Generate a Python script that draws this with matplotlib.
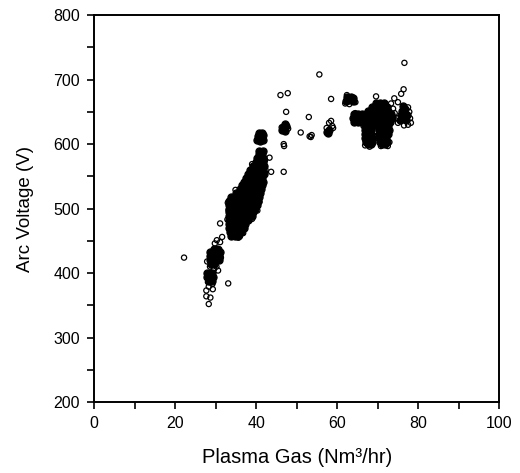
import matplotlib
matplotlib.use("Agg")
import matplotlib.pyplot as plt
from matplotlib.ticker import MultipleLocator

plt.rcParams['font.family'] = ['Liberation Sans', 'DejaVu Sans']

# Dense cluster cores (overlapping circles appear solid black)
core_x = [
    # lower cluster ~29
    29.5, 30.3,
    28.7, 29.5, 30.3, 31.0,
    28.5, 29.3, 30.1, 30.8,
    28.5, 29.3, 30.1, 30.8,
    28.8, 29.6,
    27.8, 28.5, 29.2,
    27.8, 28.6, 29.3,
    28.3, 29.0,
    # main cluster 33-42
    33.8, 34.8, 35.5,
    33.5, 34.5, 35.5, 36.3,
    33.4, 34.4, 35.4, 36.4, 37.0,
    33.3, 34.3, 35.3, 36.3, 37.3,
    33.3, 34.3, 35.3, 36.3, 37.3, 38.0,
    33.3, 34.3, 35.3, 36.3, 37.3, 38.3, 38.9,
    33.3, 34.3, 35.3, 36.3, 37.3, 38.3, 39.3,
    33.3, 34.3, 35.3, 36.3, 37.3, 38.3, 39.3, 39.8,
    33.3, 34.3, 35.3, 36.3, 37.3, 38.3, 39.3, 40.2,
    33.4, 34.4, 35.4, 36.4, 37.4, 38.4, 39.4, 40.4,
    33.9, 34.8, 35.8, 36.8, 37.8, 38.8, 39.8, 40.8,
    35.0, 36.0, 37.0, 38.0, 39.0, 40.0, 41.0,
    36.0, 37.0, 38.0, 39.0, 40.0, 41.2,
    36.5, 37.5, 38.5, 39.5, 40.5, 41.5,
    37.0, 38.0, 39.0, 40.0, 41.0, 41.8,
    37.5, 38.5, 39.5, 40.5, 41.5,
    38.0, 39.0, 40.0, 41.0, 41.9,
    38.5, 39.5, 40.5, 41.5,
    39.3, 40.3, 41.3, 42.0,
    40.0, 41.0, 41.8,
    40.3, 41.2, 41.8,
    40.6, 41.5,
    40.8, 41.6,
    # blob at ~610
    40.3, 41.0, 41.7, 40.5, 41.2, 41.8, 40.7, 41.4,
    # cluster at 47
    46.5, 47.2, 46.7, 47.4, 47.0,
    # cluster at 58
    57.5, 58.0, 57.8,
    # cluster at 63
    62.3, 63.0, 63.8, 62.5, 63.3, 64.0,
    # big cluster 64-74
    64.2, 65.2, 66.2, 67.2, 68.2, 69.2, 70.2, 71.2, 72.2, 73.0,
    63.8, 64.8, 65.8, 66.8, 67.8, 68.8, 69.8, 70.8, 71.8, 72.8, 73.5,
    64.2, 65.2, 66.2, 67.2, 68.2, 69.2, 70.2, 71.2, 72.2, 73.2,
    67.5, 68.5, 69.5, 70.5, 71.5, 72.5,
    68.5, 69.5, 70.5, 71.5, 72.3,
    69.5, 70.5, 71.5,
    66.8, 67.8, 68.6,
    66.8, 67.6, 68.4,
    66.8, 67.6, 68.4,
    66.9, 67.7, 68.5,
    67.0, 67.8, 68.6,
    67.5, 68.3,
    70.2, 71.0, 71.8, 72.6,
    70.4, 71.2, 72.0, 72.8,
    70.4, 71.2, 72.0, 72.6,
    70.4, 71.2, 72.0,
    70.6, 71.4, 72.2,
    71.0, 71.8,
    # right cluster ~76
    75.5, 76.3, 77.0, 75.7, 76.5, 77.2, 76.0, 76.8, 76.2,
]
core_y = [
    438, 438,
    432, 432, 432, 432,
    426, 426, 426, 426,
    420, 420, 420, 420,
    414, 414,
    400, 400, 400,
    394, 394, 394,
    388, 388,
    458, 458, 458,
    464, 464, 464, 464,
    470, 470, 470, 470, 470,
    476, 476, 476, 476, 476,
    482, 482, 482, 482, 482, 482,
    488, 488, 488, 488, 488, 488, 488,
    494, 494, 494, 494, 494, 494, 494,
    500, 500, 500, 500, 500, 500, 500, 500,
    506, 506, 506, 506, 506, 506, 506, 506,
    512, 512, 512, 512, 512, 512, 512, 512,
    518, 518, 518, 518, 518, 518, 518, 518,
    524, 524, 524, 524, 524, 524, 524,
    530, 530, 530, 530, 530, 530,
    536, 536, 536, 536, 536, 536,
    542, 542, 542, 542, 542, 542,
    548, 548, 548, 548, 548,
    554, 554, 554, 554, 554,
    560, 560, 560, 560,
    566, 566, 566, 566,
    572, 572, 572,
    578, 578, 578,
    584, 584,
    590, 590,
    606, 605, 607, 612, 613, 614, 617, 617,
    622, 621, 627, 628, 631,
    619, 622, 617,
    667, 668, 667, 673, 673, 672,
    634, 634, 634, 634, 634, 634, 634, 634, 634, 634,
    640, 640, 640, 640, 640, 640, 640, 640, 640, 640, 640,
    646, 646, 646, 646, 646, 646, 646, 646, 646, 646,
    652, 652, 652, 652, 652, 652,
    658, 658, 658, 658, 658,
    664, 664, 664,
    628, 628, 628,
    622, 622, 622,
    616, 616, 616,
    610, 610, 610,
    604, 604, 604,
    600, 600,
    628, 628, 628, 628,
    622, 622, 622, 622,
    616, 616, 616, 616,
    610, 610, 610,
    604, 604, 604,
    600, 600,
    638, 640, 638, 645, 647, 645, 652, 654, 659,
]

# Scattered individual readings (open circles)
sparse_x = [
    22.2,
    28.3, 27.7, 28.7, 27.7, 28.3, 29.3, 28.1, 29.2, 29.6, 30.6, 30.2,
    29.8, 30.3, 31.1, 31.6, 31.1, 27.9, 29.0, 28.6, 30.9, 31.3,
    33.1,
    34.9, 39.0, 43.3, 43.7, 40.3, 39.0, 32.9, 33.0, 33.6, 35.2, 36.0,
    34.4, 42.0, 41.5, 42.2, 41.0, 40.8, 40.8, 38.3, 37.5, 36.5, 33.7,
    42.3, 39.7, 36.8, 35.6, 33.2, 38.0,
    46.0, 47.8, 47.4, 46.8, 46.9, 46.8, 46.3, 47.9,
    51.0, 53.0, 53.2, 53.7, 53.5, 55.6, 58.5,
    58.0, 58.5, 58.8, 57.4, 59.0,
    62.0, 64.5, 63.0, 62.4,
    69.6, 66.9, 68.0, 70.8, 72.5, 73.3, 74.1, 73.8, 74.2, 73.9,
    65.0, 64.5, 69.0, 69.3, 67.0, 72.9, 66.5, 69.8,
    76.6, 76.4, 75.8, 75.0, 77.8, 78.2, 77.5, 76.5, 75.0, 77.5, 78.0,
    74.8,
]
sparse_y = [
    424,
    352, 364, 362, 373, 379, 375, 386, 383, 406, 404, 410,
    446, 451, 448, 456, 477, 418, 418, 410, 437, 424,
    384,
    529, 569, 579, 557, 497, 484, 483, 509, 470, 458, 457,
    462, 558, 587, 575, 578, 542, 510, 490, 480, 467, 478,
    560, 520, 462, 455, 497, 485,
    676, 679, 650, 600, 597, 557, 626, 624,
    618, 642, 612, 614, 611, 708, 670,
    633, 636, 628, 625, 625,
    663, 665, 662, 676,
    674, 598, 596, 597, 597, 663, 671, 655, 648, 642,
    633, 648, 612, 620, 605, 603, 628, 660,
    726, 685, 678, 665, 650, 633, 630, 629, 633, 657, 640,
    640,
]

x_ticks = [0, 20, 40, 60, 80, 100]
y_ticks = [200, 300, 400, 500, 600, 700, 800]

fig = plt.figure(figsize=(5.2, 4.73), dpi=100)
ax = fig.add_axes([0.181, 0.150, 0.779, 0.818])

ax.scatter(core_x, core_y, s=26, facecolors='black', edgecolors='black',
           linewidths=0.9, zorder=3)
ax.scatter(sparse_x, sparse_y, s=14, facecolors='none', edgecolors='black',
           linewidths=0.9, zorder=4)

ax.set_xlim(0, 100)
ax.set_ylim(200, 800)
ax.set_xticks(x_ticks)
ax.set_yticks(y_ticks)
ax.xaxis.set_minor_locator(MultipleLocator(10))
ax.yaxis.set_minor_locator(MultipleLocator(50))
ax.tick_params(which='both', direction='out', length=5, width=1.2,
               labelsize=11.5, pad=5)

for sp in ax.spines.values():
    sp.set_linewidth(1.4)

ax.set_xlabel('Plasma Gas (Nm³/hr)', fontsize=14.5, labelpad=12)
ax.set_ylabel('Arc Voltage (V)', fontsize=13.5, labelpad=14)

fig.savefig('out.png', dpi=100)
